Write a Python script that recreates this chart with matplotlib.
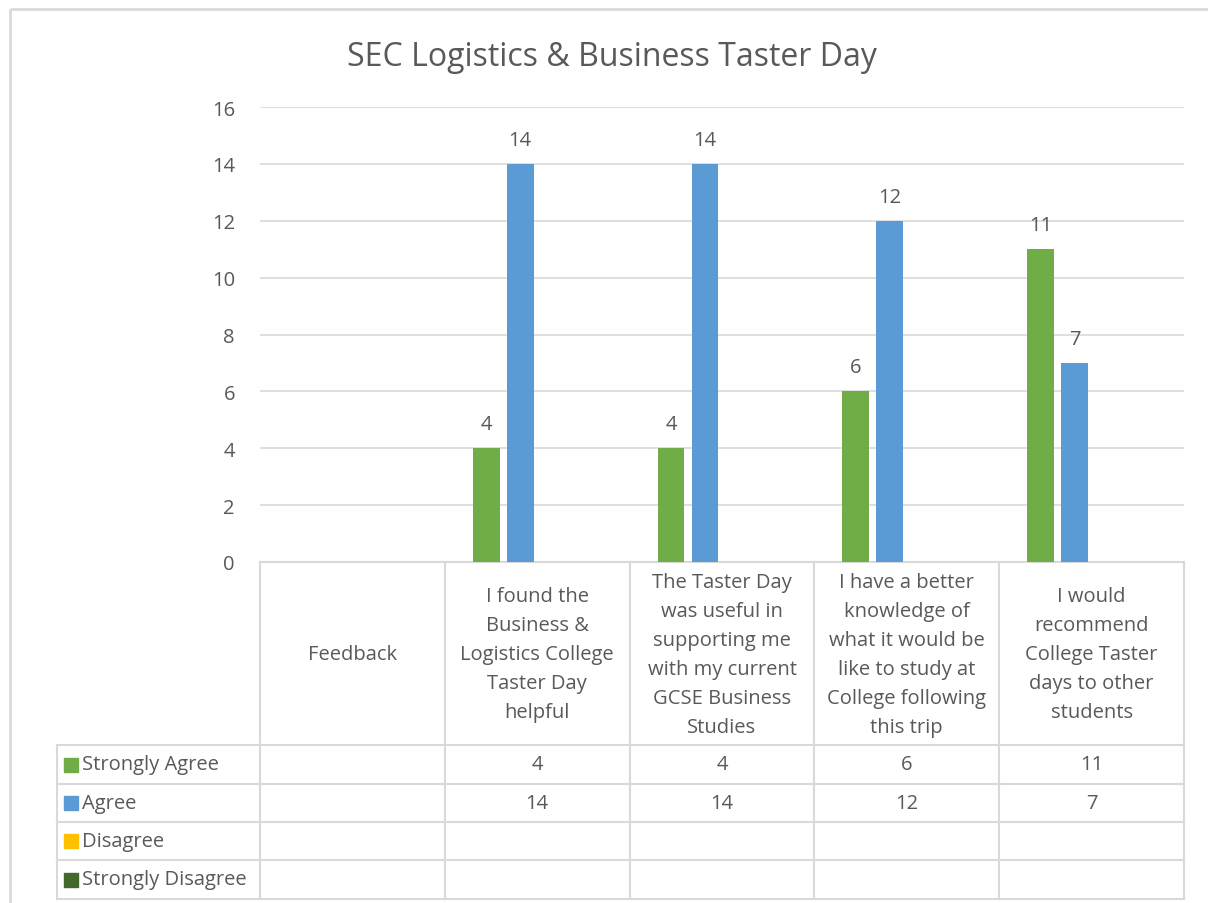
import numpy as np
import matplotlib
matplotlib.use("Agg")
import matplotlib.pyplot as plt
from matplotlib.transforms import blended_transform_factory
from matplotlib.patches import Rectangle

# ---- data ----
categories = [
    "Feedback",
    "I found the\nBusiness &\nLogistics College\nTaster Day\nhelpful",
    "The Taster Day\nwas useful in\nsupporting me\nwith my current\nGCSE Business\nStudies",
    "I have a better\nknowledge of\nwhat it would be\nlike to study at\nCollege following\nthis trip",
    "I would\nrecommend\nCollege Taster\ndays to other\nstudents",
]
series_names = ["Strongly Agree", "Agree", "Disagree", "Strongly Disagree"]
strongly_agree = [np.nan, 4, 4, 6, 11]
agree = [np.nan, 14, 14, 12, 7]
disagree = [np.nan, np.nan, np.nan, np.nan, np.nan]
strongly_disagree = [np.nan, np.nan, np.nan, np.nan, np.nan]
series_values = [strongly_agree, agree, disagree, strongly_disagree]
series_colors = ["#70AD47", "#5B9BD5", "#FFC000", "#43682B"]
y_ticks = [0, 2, 4, 6, 8, 10, 12, 14, 16]
title = "SEC Logistics & Business Taster Day"

# ---- style ----
W, H = 1208, 904
TXT = "#595959"
LINE = "#D9D9D9"
FONT = "Open Sans"
FS = 14.5
plt.rcParams["font.family"] = [FONT, "DejaVu Sans"]

fig = plt.figure(figsize=(W / 100, H / 100), dpi=100)
fig.patch.set_facecolor("white")

# overlay in pixel coordinates
ov = fig.add_axes([0, 0, 1, 1], zorder=0)
ov.set_xlim(0, W)
ov.set_ylim(H, 0)
ov.axis("off")

# plot area
x0, x1 = 260, 1184
y_top, y_bot = 108, 563
ax = fig.add_axes([x0 / W, 1 - y_bot / H, (x1 - x0) / W, (y_bot - y_top) / H], zorder=1)
ax.patch.set_alpha(0)
n = len(categories)
ax.set_xlim(-0.5, n - 0.5)
ax.set_ylim(0, 16)
ax.set_yticks(y_ticks)
ax.set_yticklabels([str(t) for t in y_ticks])
ax.tick_params(axis="y", length=0, pad=18, labelsize=FS, labelcolor=TXT)
ax.tick_params(axis="x", length=0, labelbottom=False)
for s in ax.spines.values():
    s.set_visible(False)
ax.grid(axis="y", color=LINE, linewidth=1.2)
ax.set_axisbelow(True)

x = np.arange(n)
slot = 0.184
bw = 0.146
for k, (vals, col) in enumerate(zip(series_values, series_colors)):
    off = (k - 1.5) * slot
    v = np.array(vals, dtype=float)
    ax.bar(x + off, np.nan_to_num(v), width=bw, color=col, zorder=3)
    for xi, vi in zip(x + off, v):
        if not np.isnan(vi):
            ax.annotate(f"{int(vi)}", (xi, vi), xytext=(0, 10), textcoords="offset points",
                        ha="center", va="bottom", fontsize=FS, color=TXT)

# title
fig.text(612 / W, 1 - 57 / H, title, ha="center", va="center", fontsize=23, color=TXT)

# outer border
ov.plot([10, W], [10, 10], color=LINE, linewidth=2, solid_capstyle="butt")
ov.plot([10, 10], [10, H], color=LINE, linewidth=2, solid_capstyle="butt")

# data table
tr = blended_transform_factory(ax.transData, ov.transData)
row_y = [746, 785, 823, 861, 900]
leg_x = 57
lw = 1.5
ov.plot([x0, x1], [y_bot, y_bot], color=LINE, lw=lw)
for yy in row_y:
    ov.plot([leg_x, x1], [yy, yy], color=LINE, lw=lw)
for b in np.arange(n + 1) - 0.5:
    ax.plot([b, b], [y_bot, row_y[-1]], color=LINE, lw=lw, transform=tr, clip_on=False)
ov.plot([leg_x, leg_x], [row_y[0], row_y[-1]], color=LINE, lw=lw)

# category labels
for i, c in enumerate(categories):
    ax.text(i, (y_bot + row_y[0]) / 2 + 1, c, transform=tr, ha="center", va="center",
            fontsize=FS, color=TXT, linespacing=1.6, clip_on=False)

# rows
for r, (name, vals, col) in enumerate(zip(series_names, series_values, series_colors)):
    yc = (row_y[r] + row_y[r + 1]) / 2
    ov.add_patch(Rectangle((64, yc - 7), 14, 14, color=col))
    ov.text(82, yc, name, ha="left", va="center", fontsize=FS, color=TXT)
    for i, v in enumerate(vals):
        if not np.isnan(v):
            ax.text(i, yc, f"{int(v)}", transform=tr, ha="center", va="center",
                    fontsize=FS, color=TXT, clip_on=False)

fig.savefig("out.png", dpi=100, facecolor="white")
